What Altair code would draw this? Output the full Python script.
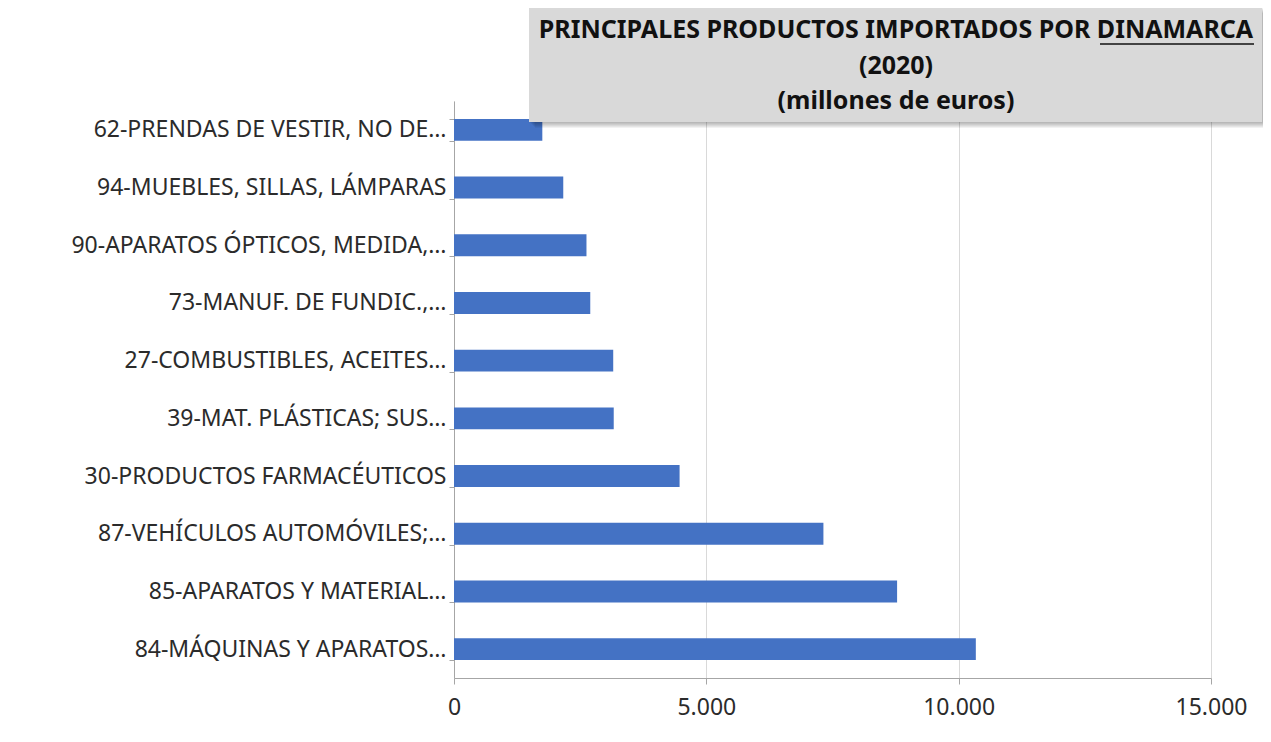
import altair as alt
import pandas as pd

CATEGORIES = [
    "62-PRENDAS DE VESTIR, NO DE…",
    "94-MUEBLES, SILLAS, LÁMPARAS\u00a0",
    "90-APARATOS ÓPTICOS, MEDIDA,…",
    "73-MANUF. DE FUNDIC.,…",
    "27-COMBUSTIBLES, ACEITES…",
    "39-MAT. PLÁSTICAS; SUS…",
    "30-PRODUCTOS FARMACÉUTICOS\u00a0",
    "87-VEHÍCULOS AUTOMÓVILES;…",
    "85-APARATOS Y MATERIAL…",
    "84-MÁQUINAS Y APARATOS…",
]
VALUES = [1750, 2165, 2625, 2700, 3155, 3165, 4470, 7320, 8780, 10340]
X_TICKS = [0, 5000, 10000, 15000]
TITLE_LINES = ["PRINCIPALES PRODUCTOS IMPORTADOS POR DINAMARCA", "(2020)", "(millones de euros)"]

df = pd.DataFrame({"cat": CATEGORIES, "val": VALUES})
FONT = "Noto Sans"
TXT = "#2b2b2b"
AX = "#a6a6a6"

bars = alt.Chart(df).mark_bar(color="#4472c4").encode(
    x=alt.X("val:Q",
            scale=alt.Scale(domain=[0, 15000], nice=False),
            axis=alt.Axis(values=X_TICKS, title=None, grid=True, gridColor="#d9d9d9",
                          domainColor=AX, tickColor=AX, tickSize=6, labelFont=FONT,
                          labelFontSize=23, labelColor=TXT, labelPadding=12,
                          labelFlush=False,
                          labelExpr="replace(format(datum.value, ',d'), ',', '.')")),
    y=alt.Y("cat:N", sort=CATEGORIES,
            scale=alt.Scale(paddingInner=0.62, paddingOuter=0.31),
            axis=alt.Axis(title=None, tickBand="extent", domainColor=AX, tickColor=AX,
                          tickSize=5, labelFont=FONT, labelFontSize=23, labelColor=TXT,
                          labelLimit=600, labelPadding=3)),
)

one = alt.Data(values=[{}])

shadows = []
for i in range(1, 7):
    shadows.append(
        alt.Chart(one).mark_rect(color="#000000", opacity=0.05).encode(
            x=alt.value(75 + i), x2=alt.value(808 + i),
            y=alt.value(-94 + i), y2=alt.value(21 + i))
    )

box = alt.Chart(one).mark_rect(color="#d9d9d9").encode(
    x=alt.value(75), x2=alt.value(808), y=alt.value(-94), y2=alt.value(21))

title_layers = []
for line, yy in zip(TITLE_LINES, [-71, -35, 0]):
    title_layers.append(
        alt.Chart(one).mark_text(font=FONT, fontSize=25, fontWeight="bold", color="#111111",
                                 align="center", baseline="middle").encode(
            x=alt.value(442), y=alt.value(yy), text=alt.value(line))
    )

underline = alt.Chart(one).mark_rule(color="#111111", strokeWidth=1.5).encode(
    x=alt.value(646), x2=alt.value(800), y=alt.value(-57))

chart = alt.layer(bars, *shadows, box, *title_layers, underline).properties(
    width=757, height=577,
    autosize=alt.AutoSizeParams(type="none"),
    padding={"left": 446, "top": 93, "right": 52, "bottom": 50},
).configure_view(stroke=None)

chart.save("out.html", embed_options={"renderer": "svg", "actions": False})
